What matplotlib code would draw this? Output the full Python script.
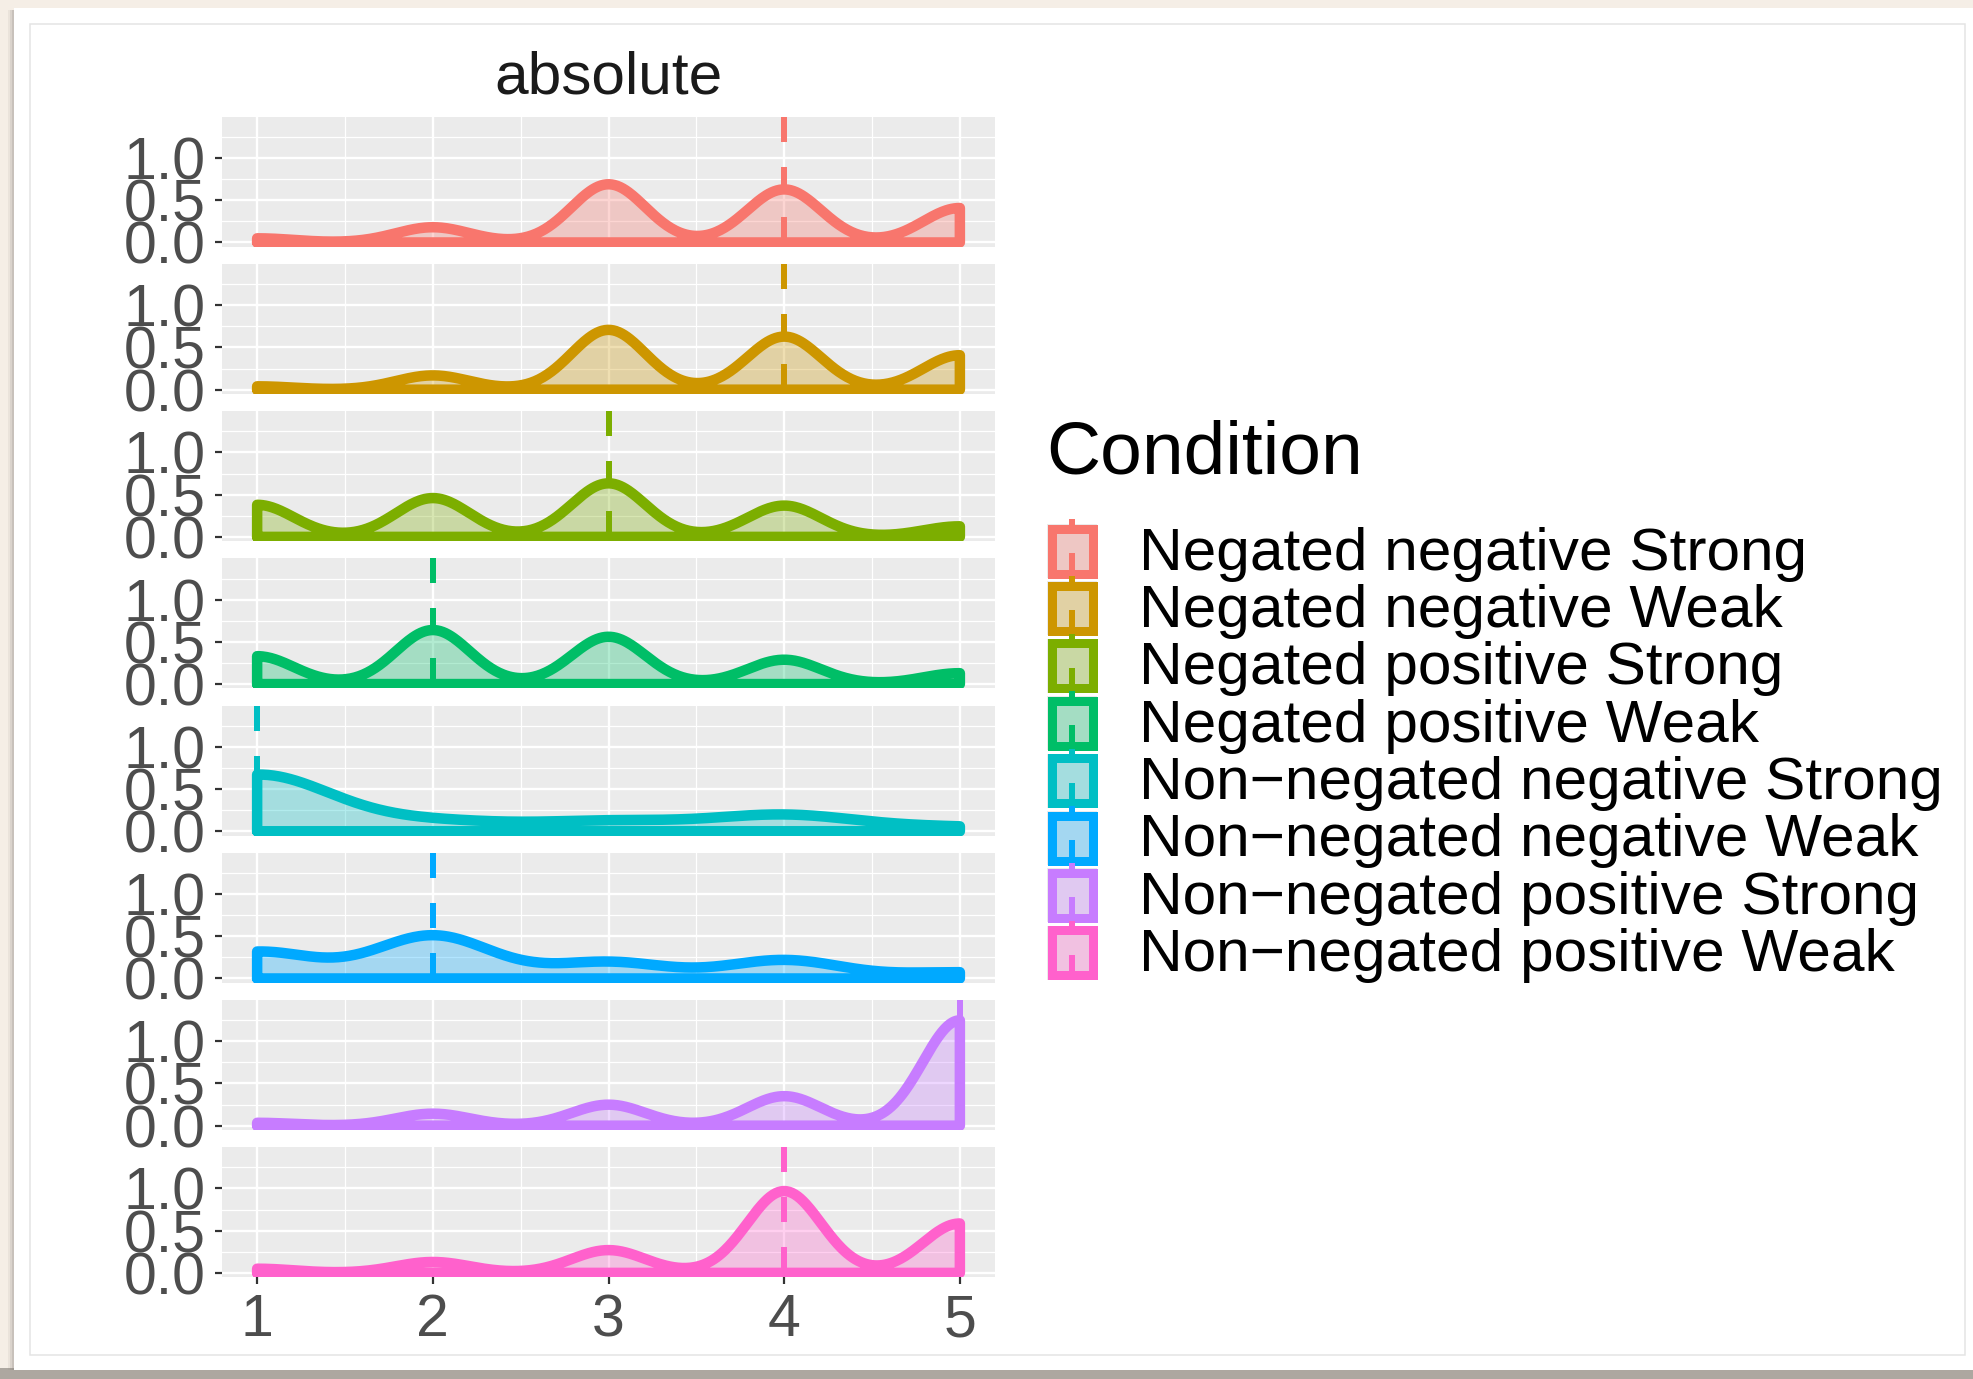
import numpy as np
import matplotlib
matplotlib.use("Agg")
import matplotlib.pyplot as plt
from matplotlib.patches import Rectangle
from matplotlib.lines import Line2D

plt.rcParams['font.family'] = ['Liberation Sans', 'DejaVu Sans']
plt.rcParams['lines.scale_dashes'] = False

# ---------------- data ----------------
facet_title = "absolute"
legend_title = "Condition"
conditions = [
    "Negated negative Strong",
    "Negated negative Weak",
    "Negated positive Strong",
    "Negated positive Weak",
    "Non\u2212negated negative Strong",
    "Non\u2212negated negative Weak",
    "Non\u2212negated positive Strong",
    "Non\u2212negated positive Weak",
]
colors = ["#F8766D", "#CD9600", "#7CAE00", "#00BE67",
          "#00BFC4", "#00A9FF", "#C77CFF", "#FF61CC"]
responses = [1, 2, 3, 4, 5]
# estimated response shares (per condition) at responses 1..5
share_neg_neg_strong = [0.026, 0.095, 0.363, 0.331, 0.215]
share_neg_neg_weak = [0.021, 0.089, 0.373, 0.331, 0.215]
share_neg_pos_strong = [0.200, 0.242, 0.334, 0.195, 0.066]
share_neg_pos_weak = [0.174, 0.337, 0.295, 0.152, 0.068]
share_non_neg_strong = [0.700, 0.120, 0.120, 0.200, 0.050]
share_non_neg_weak = [0.260, 0.420, 0.160, 0.180, 0.060]
share_non_pos_strong = [0.018, 0.075, 0.131, 0.184, 0.657]
share_non_pos_weak = [0.026, 0.068, 0.142, 0.510, 0.308]
bandwidths = [0.21, 0.21, 0.21, 0.21, 0.42, 0.33, 0.21, 0.21]
medians = [4, 4, 3, 2, 1, 2, 5, 4]
x_ticks = [1, 2, 3, 4, 5]
y_ticks = [0.0, 0.5, 1.0]
y_tick_labels = ["0.0", "0.5", "1.0"]

shares = [share_neg_neg_strong, share_neg_neg_weak, share_neg_pos_strong,
          share_neg_pos_weak, share_non_neg_strong, share_non_neg_weak,
          share_non_pos_strong, share_non_pos_weak]

# ---------------- figure ----------------
W, H = 1973, 1379
DPI = 100
fig = plt.figure(figsize=(W / DPI, H / DPI), dpi=DPI, facecolor="#F5EEE6")


def px2pt(p):
    return p * 72.0 / DPI


# background card
bg = fig.add_axes([0, 0, 1, 1], zorder=-5)
bg.set_xlim(0, W)
bg.set_ylim(H, 0)
bg.axis("off")
bg.add_patch(Rectangle((0, 1368), W, 11, color="#ADA7A0", lw=0))
for k, a in enumerate([0.10, 0.16, 0.22]):
    bg.add_patch(Rectangle((8 + 2 * k, 10), 6 - 2 * k, 1360, color="#8A8580", alpha=a, lw=0))
bg.add_patch(Rectangle((14, 8), W - 14, 1362, color="white", lw=0))
bg.add_patch(Rectangle((30, 24), 1965 - 30, 1355 - 24, fill=False,
                       edgecolor="#E4E4E4", lw=px2pt(1.5)))

# panels
left, right = 222, 995
top0, pitch, ph = 116.7, 147.2, 130
xlim = (0.8, 5.2)
ylim = (-0.05, 1.49)
xs = np.linspace(1, 5, 512)
tick_fs = 42.5

for i, (w, h, col, med) in enumerate(zip(shares, bandwidths, colors, medians)):
    top = top0 + pitch * i
    ax = fig.add_axes([left / W, 1 - (top + ph) / H, (right - left) / W, ph / H])
    ax.set_facecolor("#EBEBEB")
    for s in ax.spines.values():
        s.set_visible(False)
    ax.set_xlim(*xlim)
    ax.set_ylim(*ylim)
    ax.set_xticks(x_ticks)
    ax.set_xticks([1.5, 2.5, 3.5, 4.5], minor=True)
    ax.set_yticks(y_ticks)
    ax.set_yticks([0.25, 0.75, 1.25], minor=True)
    ax.set_yticklabels(y_tick_labels)
    ax.grid(which="major", color="white", lw=px2pt(2.4))
    ax.grid(which="minor", color="white", lw=px2pt(1.2))
    ax.set_axisbelow(True)
    ax.tick_params(which="minor", length=0)
    ax.tick_params(which="major", length=px2pt(7), width=px2pt(2.2), color="#333333",
                   labelsize=tick_fs, labelcolor="#4D4D4D")
    ax.tick_params(axis="y", pad=px2pt(9))
    ax.tick_params(axis="x", pad=px2pt(9))
    if i < len(shares) - 1:
        ax.tick_params(axis="x", which="major", length=0, labelbottom=False)

    dens = np.zeros_like(xs)
    for r, wk in zip(responses, w):
        dens += wk * np.exp(-(xs - r) ** 2 / (2 * h * h)) / (h * np.sqrt(2 * np.pi))

    ax.fill_between(xs, 0, dens, color=col, alpha=0.3, lw=0, zorder=2)
    ox = np.concatenate([[xs[0]], xs, [xs[-1], xs[0]]])
    oy = np.concatenate([[0], dens, [0, 0]])
    ax.plot(ox, oy, color=col, lw=px2pt(10.5), solid_joinstyle="round",
            solid_capstyle="round", zorder=3)
    ax.plot([med, med], [ylim[1], ylim[0]], color=col, lw=px2pt(6),
            linestyle=(0, (px2pt(25), px2pt(25))), dash_capstyle="butt", zorder=4)

# facet title
fig.text(608.5 / W, 1 - 78 / H, facet_title, ha="center", va="center",
         fontsize=43.5, color="#1A1A1A")

# legend
lg = fig.add_axes([0, 0, 1, 1], zorder=5)
lg.set_xlim(0, W)
lg.set_ylim(H, 0)
lg.axis("off")
lg.text(1046, 454, legend_title, ha="left", va="center", fontsize=54, color="black")
for i, (lab, col) in enumerate(zip(conditions, colors)):
    yc = 551 + 57.4 * i
    lg.add_patch(Rectangle((1047, yc - 27), 50, 54, color="#EBEBEB", lw=0))
    lg.add_patch(Rectangle((1051.5, yc - 22.5), 41, 45, facecolor=col, alpha=0.3, lw=0))
    lg.add_patch(Rectangle((1051.5, yc - 22.5), 41, 45, fill=False, edgecolor=col,
                           lw=px2pt(9)))
    lg.add_line(Line2D([1072, 1072], [yc - 32, yc + 29], color=col, lw=px2pt(6),
                       linestyle=(px2pt(14), (px2pt(25), px2pt(23))),
                       dash_capstyle="butt"))
    lg.text(1139, yc + 3, lab, ha="left", va="center", fontsize=43.5, color="black")

fig.savefig("out.png", dpi=DPI, facecolor=fig.get_facecolor())
